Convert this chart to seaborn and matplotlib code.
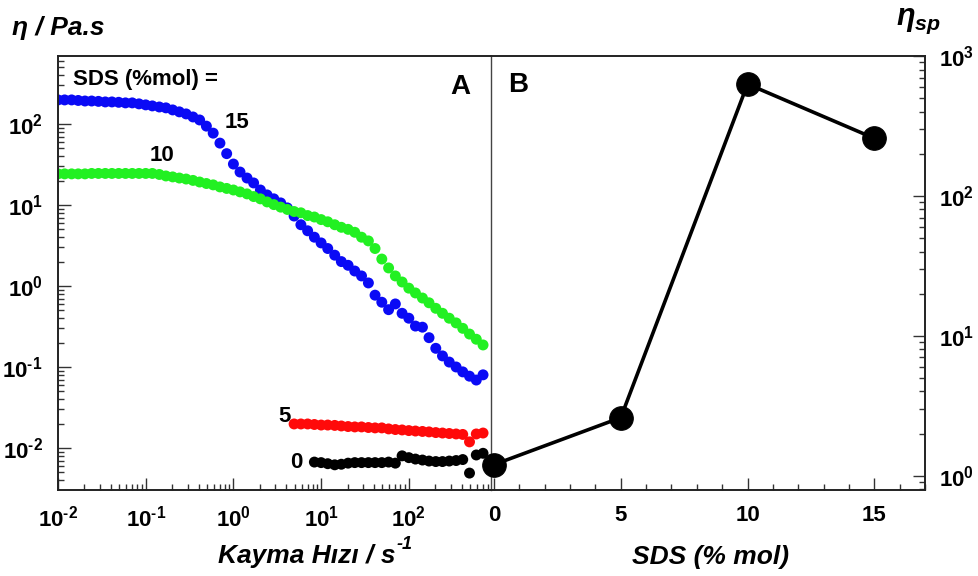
import matplotlib
matplotlib.use("Agg")
import matplotlib.pyplot as plt
from matplotlib.ticker import FixedLocator, LogLocator, MultipleLocator, NullFormatter
import seaborn as sns

# shear rate grid (1/s) shared by all flow curves
shear_rate = [0.0100, 0.0119, 0.0143, 0.0170, 0.0203, 0.0242, 0.0289, 0.0346, 0.0412, 0.0492, 0.0588, 0.0702, 0.0838,
              0.100, 0.119, 0.143, 0.170, 0.203, 0.242, 0.289, 0.346, 0.412, 0.492, 0.588, 0.702, 0.838,
              1.00, 1.19, 1.43, 1.70, 2.03, 2.42, 2.89, 3.46, 4.12, 4.92, 5.88, 7.02, 8.38,
              10.0, 11.9, 14.3, 17.0, 20.3, 24.2, 28.9, 34.6, 41.2, 49.2, 58.8, 70.2, 83.8,
              100, 119, 143, 170, 203, 242, 289, 346, 412, 492, 588, 702]

# viscosity (Pa.s) for each SDS content
eta_15 = [198, 198, 198, 195, 192, 192, 190, 187, 187, 185, 182, 182, 177, 172, 167, 162, 158, 149, 141, 133,
          122, 112, 94, 77, 58, 43, 32, 25.5, 21.5, 18.7, 15.3, 13.3, 11.9, 10.6, 9.2, 7.3, 5.7, 4.8, 4.0, 3.4,
          2.9, 2.4, 2.0, 1.8, 1.53, 1.33, 1.09, 0.77, 0.63, 0.51, 0.60, 0.46, 0.40, 0.32, 0.31, 0.23, 0.17, 0.137,
          0.115, 0.100, 0.087, 0.077, 0.069, 0.080]
eta_10 = [24.2, 24.2, 24.2, 24.2, 24.2, 24.5, 24.5, 24.5, 24.5, 24.5, 24.5, 24.5, 24.5, 24.5, 24.5, 23.8, 22.8,
          22.2, 21.5, 20.9, 20.1, 19.2, 18.4, 17.7, 16.7, 16.0, 15.3, 14.5, 13.7, 12.7, 11.9, 10.9, 10.1, 9.4, 8.8,
          8.3, 8.0, 7.4, 7.1, 6.6, 6.2, 5.7, 5.3, 5.0, 4.6, 4.0, 3.6, 2.9, 2.15, 1.67, 1.33, 1.12, 0.94, 0.82, 0.71,
          0.62, 0.53, 0.46, 0.40, 0.35, 0.30, 0.255, 0.22, 0.187]
eta_5 = [0.0198, 0.0198, 0.0198, 0.0195, 0.0192, 0.0192, 0.0190, 0.0187, 0.0184, 0.0182, 0.0182, 0.0179, 0.0177,
         0.0177, 0.0172, 0.0169, 0.0167, 0.0164, 0.0162, 0.0160, 0.0158, 0.0155, 0.0153, 0.0151, 0.0149, 0.0147,
         0.0119, 0.0149, 0.0153]
eta_0 = [0.0067, 0.0066, 0.0064, 0.0062, 0.0063, 0.0065, 0.0066, 0.0066, 0.0066, 0.0066, 0.0066, 0.0067, 0.0065,
         0.0080, 0.0076, 0.0073, 0.0071, 0.0069, 0.0068, 0.0068, 0.0069, 0.0070, 0.0072, 0.0049, 0.0082, 0.0086]

# specific viscosity vs SDS content
sds = [0, 5, 10, 15]
eta_sp = [1.2, 2.6, 630, 258]

sns.set_style("ticks")
plt.rcParams["font.family"] = ["Liberation Sans", "DejaVu Sans"]
plt.rcParams.update({
    "text.color": "black",
    "xtick.labelcolor": "black",
    "ytick.labelcolor": "black",
    "mathtext.fontset": "custom",
    "mathtext.rm": "Liberation Sans:bold",
    "mathtext.it": "Liberation Sans:italic:bold",
    "mathtext.bf": "Liberation Sans:bold",
    "mathtext.default": "rm",
})

HY = "\u2010"  # short hyphen used in the exponents


def pow_label(e):
    sign = HY if e < 0 else ""
    return rf"$10^{{{sign}{abs(e)}}}$"


W, H = 979, 576
fig = plt.figure(figsize=(W / 100, H / 100), dpi=100)
ax_a = fig.add_axes([58 / W, 86 / H, 433 / W, 434 / H])
ax_b = fig.add_axes([491 / W, 86 / H, 434 / W, 434 / H])
ax_b.patch.set_alpha(0)

# panel A: flow curves
dot = dict(s=62, edgecolor="none", ax=ax_a)
sns.scatterplot(x=shear_rate, y=eta_15, color="#0a0af5", **dot)
sns.scatterplot(x=shear_rate, y=eta_10, color="#22f022", **dot)
sns.scatterplot(x=shear_rate[35:], y=eta_5, color="#ff0a0a", **dot)
sns.scatterplot(x=shear_rate[38:], y=eta_0, color="black", **dot)

ax_a.set_xscale("log")
ax_a.set_yscale("log")
ax_a.set_xlim(0.01, 865)
ax_a.set_ylim(0.00303, 690)

tick_font = dict(fontsize=16, fontweight="bold")
decades = [-2, -1, 0, 1, 2]
ax_a.xaxis.set_major_locator(FixedLocator([10.0 ** e for e in decades]))
ax_a.set_xticklabels([pow_label(e) for e in decades], **tick_font)
ax_a.yaxis.set_major_locator(FixedLocator([10.0 ** e for e in decades]))
ax_a.set_yticklabels([pow_label(e) for e in decades], **tick_font)
for axis in (ax_a.xaxis, ax_a.yaxis):
    axis.set_minor_locator(LogLocator(base=10, subs=range(2, 10), numticks=20))
    axis.set_minor_formatter(NullFormatter())
ax_a.tick_params(which="both", direction="in", color="#333333", width=1, top=False, right=False)
ax_a.tick_params(which="major", length=9)
ax_a.tick_params(which="minor", length=4.5)
ax_a.tick_params(axis="y", pad=11)
ax_a.tick_params(axis="x", pad=11)
for side in ("left", "bottom", "top"):
    ax_a.spines[side].set_color("#222222")
    ax_a.spines[side].set_linewidth(1.4)
ax_a.spines["right"].set_color("#444444")
ax_a.spines["right"].set_linewidth(1.0)

ax_a.text(0.035, 0.945, "SDS (%mol) =", transform=ax_a.transAxes, fontsize=16, fontweight="bold",
          ha="left", va="center")
ax_a.text(0.93, 0.929, "A", transform=ax_a.transAxes, fontsize=20, fontweight="bold", ha="center", va="center")
label_font = dict(fontsize=16, fontweight="bold", ha="center", va="center")
ax_a.text(1.1, 103, "15", **label_font)
ax_a.text(0.153, 41, "10", **label_font)
ax_a.text(3.8, 0.0248, "5", **label_font)
ax_a.text(5.2, 0.0067, "0", **label_font)

# panel B: specific viscosity
sns.lineplot(x=sds, y=eta_sp, color="black", lw=2.6, marker="o", markersize=17, markeredgecolor="black",
             ax=ax_b, clip_on=False, zorder=5)
ax_b.set_yscale("log")
ax_b.set_xlim(-0.12, 17.0)
ax_b.set_ylim(0.79, 1000)
ax_b.xaxis.set_major_locator(FixedLocator([0, 5, 10, 15]))
ax_b.set_xticklabels(["0", "5", "10", "15"], **tick_font)
ax_b.xaxis.set_minor_locator(MultipleLocator(1))
ax_b.yaxis.tick_right()
ax_b.yaxis.set_major_locator(FixedLocator([1, 10, 100, 1000]))
ax_b.set_yticklabels([pow_label(e) for e in [0, 1, 2, 3]], **tick_font)
ax_b.yaxis.set_minor_locator(LogLocator(base=10, subs=range(2, 10), numticks=20))
ax_b.yaxis.set_minor_formatter(NullFormatter())
ax_b.tick_params(which="both", direction="in", color="#333333", width=1, top=False, left=False,
                 right=True, labelleft=False, labelright=True)
ax_b.tick_params(which="major", length=9)
ax_b.tick_params(which="minor", length=4.5)
ax_b.tick_params(axis="y", pad=10)
ax_b.tick_params(axis="x", pad=11)
ax_b.spines["left"].set_visible(False)
for side in ("right", "bottom", "top"):
    ax_b.spines[side].set_visible(True)
    ax_b.spines[side].set_color("#222222")
    ax_b.spines[side].set_linewidth(1.4)
ax_b.set_xlabel("")
ax_b.set_ylabel("")
ax_b.text(0.062, 0.933, "B", transform=ax_b.transAxes, fontsize=20, fontweight="bold", ha="center", va="center")

# axis titles
title_font = dict(fontsize=19, fontweight="bold", fontstyle="italic", va="center")
fig.text(12 / W, 1 - 28 / H, "η / Pa.s", ha="left", **title_font)
fig.text(896 / W, 1 - 21 / H, r"η$_{\mathit{sp}}$", ha="left", fontsize=22, fontweight="bold",
         fontstyle="italic", va="center")
xlab = fig.text(218 / W, 1 - 556 / H, "Kayma Hızı / s", ha="left", **title_font)
ax_a.annotate("-1", xy=(1, 0.62), xycoords=xlab, xytext=(1, 0), textcoords="offset points",
              ha="left", va="bottom", fontsize=13, fontweight="bold", fontstyle="italic", annotation_clip=False)
fig.text(711 / W, 1 - 557 / H, "SDS (% mol)", ha="center", **title_font)

fig.savefig("out.png", dpi=100)
